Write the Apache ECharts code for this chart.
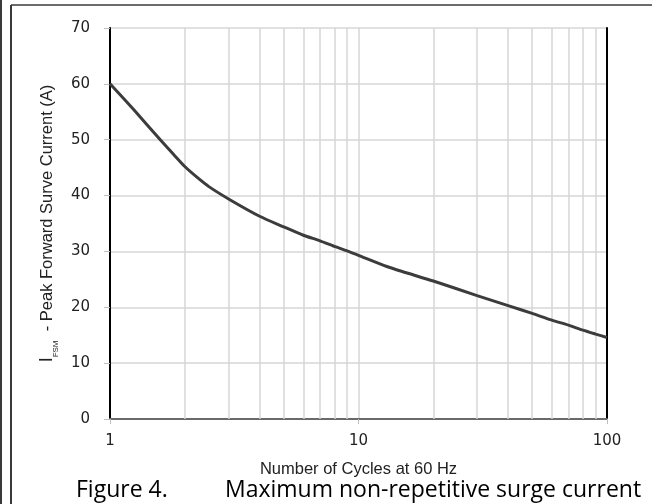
<!DOCTYPE html>
<html>
<head>
<meta charset="utf-8">
<script src="https://cdn.jsdelivr.net/npm/echarts@6/dist/echarts.min.js"></script>
<style>
html,body{margin:0;padding:0;background:#fff;}
#c{width:652px;height:504px;}
</style>
</head>
<body>
<div id="c"></div>
<script>
// Data
var cycles = [1, 1.25, 1.6, 1.8, 2, 2.25, 2.5, 3, 4, 5, 6, 7, 8, 9, 10, 13, 15, 20, 30, 40, 50, 60, 70, 80, 90, 100];
var current = [60, 55.3, 49.9, 47.4, 45.2, 43.2, 41.6, 39.4, 36.3, 34.4, 32.9, 31.9, 30.9, 30.1, 29.3, 27.3, 26.4, 24.7, 22.1, 20.3, 18.9, 17.7, 16.8, 15.9, 15.2, 14.6];
var minorGridX = [2, 3, 4, 5, 6, 7, 8, 9, 20, 30, 40, 50, 60, 70, 80, 90];
var xTitle = 'Number of Cycles at 60 Hz';
var yTitleMain = '  - Peak Forward Surve Current (A)';
var caption1 = 'Figure 4.';
var caption2 = 'Maximum non-repetitive surge current';

var chart = echarts.init(document.getElementById('c'), null, {renderer: 'canvas'});
var pts = cycles.map(function (x, i) { return [x, current[i]]; });
var gridColor = '#d6d6d6';

chart.setOption({
  animation: false,
  backgroundColor: '#fff',
  grid: {left: 110, right: 45, top: 28, bottom: 85, containLabel: false},
  xAxis: [{
    type: 'log', logBase: 10, min: 1, max: 100,
    name: xTitle, nameLocation: 'middle', nameGap: 42,
    nameTextStyle: {fontFamily: 'Liberation Sans', fontSize: 16.5, color: '#222'},
    axisLine: {show: true, lineStyle: {color: '#000', width: 2}},
    axisTick: {show: true, length: 5, lineStyle: {color: '#bfbfbf', width: 1}},
    axisLabel: {fontFamily: 'DejaVu Sans', fontSize: 15, color: '#222', margin: 15},
    splitLine: {show: true, lineStyle: {color: gridColor, width: 1.5}},
    minorTick: {show: false}, minorSplitLine: {show: false}
  }, {
    type: 'log', logBase: 10, min: 1, max: 100, position: 'top',
    axisLine: {show: true, lineStyle: {color: '#6a6a6a', width: 2}},
    axisTick: {show: false}, axisLabel: {show: false}, splitLine: {show: false}
  }],
  yAxis: [{
    type: 'value', min: 0, max: 70, interval: 10,
    name: '{i|I}{s|FSM}{t|' + yTitleMain + '}',
    nameLocation: 'middle', nameGap: 40, nameRotate: 90,
    nameTextStyle: {
      fontFamily: 'Liberation Sans', fontSize: 16.5, color: '#222',
      rich: {
        i: {fontFamily: 'Liberation Sans', fontSize: 18, color: '#222', lineHeight: 26, verticalAlign: 'middle'},
        s: {fontFamily: 'Liberation Sans', fontSize: 8, color: '#222', lineHeight: 9, verticalAlign: 'bottom'},
        t: {fontFamily: 'Liberation Sans', fontSize: 16.5, color: '#222', lineHeight: 26, verticalAlign: 'middle'}
      }
    },
    axisLine: {show: true, lineStyle: {color: '#000', width: 2}},
    axisTick: {show: true, length: 6, lineStyle: {color: '#bfbfbf', width: 1}},
    axisLabel: {fontFamily: 'DejaVu Sans', fontSize: 15, color: '#222', margin: 20},
    splitLine: {show: true, lineStyle: {color: gridColor, width: 1.5}}
  }, {
    type: 'value', min: 0, max: 70, interval: 10, position: 'right',
    axisLine: {show: true, lineStyle: {color: '#000', width: 2}},
    axisTick: {show: false}, axisLabel: {show: false}, splitLine: {show: false}
  }],
  series: [{
    type: 'line', data: [], z: 1, silent: true,
    markLine: {
      silent: true, symbol: ['none', 'none'], animation: false,
      label: {show: false},
      lineStyle: {color: gridColor, width: 1.5, type: 'solid'},
      emphasis: {disabled: true},
      data: minorGridX.map(function (v) { return {xAxis: v}; })
    }
  }, {
    type: 'line', data: pts, z: 5, smooth: 0.25, showSymbol: false, symbol: 'none',
    lineStyle: {color: '#3c3c3c', width: 3}
  }],
  graphic: [
    {type: 'line', shape: {x1: 1, y1: 0, x2: 1, y2: 504}, style: {stroke: '#3a3a3a', lineWidth: 2}},
    {type: 'line', shape: {x1: 11, y1: 5, x2: 11, y2: 504}, style: {stroke: '#3a3a3a', lineWidth: 2}},
    {type: 'line', shape: {x1: 11, y1: 5, x2: 652, y2: 5}, style: {stroke: '#3a3a3a', lineWidth: 1.5}},
    {type: 'text', left: 76, top: 479, style: {text: caption1, fontFamily: 'Open Sans', fontSize: 23, fill: '#000'}},
    {type: 'text', left: 225, top: 479, style: {text: caption2, fontFamily: 'Open Sans', fontSize: 23, fill: '#000'}}
  ]
});
</script>
</body>
</html>
